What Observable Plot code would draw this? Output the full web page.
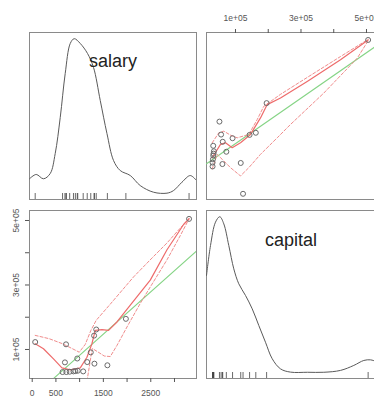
<!DOCTYPE html>
<html><head><meta charset="utf-8">
<script src="https://cdn.jsdelivr.net/npm/d3@7"></script>
<script src="https://cdn.jsdelivr.net/npm/@observablehq/plot@0.6"></script>
<style>
html,body{margin:0;padding:0;background:#fff;}
#chart{position:relative;width:374px;height:400px;overflow:hidden;background:#fff;}
#chart svg{position:absolute;left:0;top:0;}
</style></head><body><div id="chart"></div>
<script>
// ---- data ----
const variables = ["salary", "capital"];
const salary  = [3307, 1975, 1305, 1350, 1585, 1312, 1160, 1235, 713, 63, 690, 950, 1075, 960, 910, 870, 790, 720, 640];
const capital = [505000, 195000, 143000, 162000, 51000, 56000, 61000, 91000, 116000, 123000, 60000, 72000, 32000, 34000, 33000, 32000, 31000, 30000, 30000];

// axis ticks and labels
const salaryTicks = [0, 500, 1000, 1500, 2000, 2500, 3000];
const salaryTickLabels = ["0", "500", "", "1500", "", "2500", ""];
const capitalTicks = [100000, 200000, 300000, 400000, 500000];
const capitalTickLabels = ["1e+05", "", "3e+05", "", "5e+05"];

const salaryDomain = [-57, 3464];
const capitalDomainX = [11450, 527500];
const capitalDomainY = [10000, 531000];

// diagonal density curves (relative height, peak = 1)
const densSalaryX = [-57, 84, 238, 380, 485, 591, 696, 802, 886, 1013, 1167, 1293, 1435, 1576, 1715, 1857, 2068, 2278, 2559, 2842, 2981, 3158, 3333, 3464];
const densSalaryY = [0.094, 0.122, 0.094, 0.128, 0.257, 0.490, 0.775, 0.969, 1.0, 0.969, 0.904, 0.814, 0.600, 0.387, 0.212, 0.147, 0.115, 0.050, 0.007, 0.001, 0.018, 0.072, 0.115, 0.083];
const densCapitalX = [11450, 23700, 38900, 52000, 64300, 79500, 94800, 110000, 130500, 151000, 171100, 191600, 212100, 237400, 268000, 320000, 369600, 420600, 461200, 491800, 512200, 527500];
const densCapitalY = [0.622, 0.815, 0.965, 1.0, 0.954, 0.815, 0.665, 0.569, 0.494, 0.408, 0.301, 0.193, 0.087, 0.022, 0.001, 0.0, 0.0, 0.012, 0.044, 0.076, 0.080, 0.071];
const densDomain = [-0.04, 1.04];

// bottom-left panel smoothers (x = salary, y = capital)
const blFitS = [63, 238, 449, 627, 802, 1013, 1154, 1259, 1329, 1470, 1610, 1787, 2068, 2489, 2842, 3192, 3307];
const blFitC = [117800, 102200, 70900, 42800, 36600, 42800, 75900, 117800, 159400, 161600, 159400, 185300, 237500, 315000, 409400, 487500, 505000];
const blUpS = [63, 359, 639, 850, 992, 1118, 1238, 1350, 1646, 2137, 2489, 2842, 3307];
const blUpC = [143750, 133400, 117800, 102200, 91600, 115600, 159400, 190600, 240600, 325000, 378100, 430300, 507000];
const blLoS = [1139, 1266, 1371, 1519, 1646, 1787, 1998, 2278, 2489, 2842, 3122, 3307];
const blLoC = [-12500, 103100, 93750, 79700, 78100, 112500, 169700, 242800, 293750, 378100, 453100, 505000];
const blLinS = [-57, 3464];
const blLinC = [-56600, 405100];

// top-right panel smoothers (x = capital, y = salary)
const trFitC = [28900, 54200, 69500, 89900, 115300, 145800, 176300, 196800, 237400, 318900, 420600, 505000];
const trFitS = [824, 1105, 1139, 1034, 1139, 1315, 1663, 1944, 2082, 2432, 2888, 3307];
const trUpC = [28900, 49000, 64300, 84700, 105200, 140600, 166300, 186400, 237400, 318900, 420600, 505000];
const trUpS = [1139, 1349, 1384, 1300, 1243, 1315, 1629, 1908, 2160, 2516, 2957, 3320];
const trLoC = [28900, 44100, 59400, 84700, 115300, 140600, 176300, 227300, 267900, 369600, 471600, 505000];
const trLoS = [587, 895, 790, 614, 440, 614, 895, 1243, 1525, 2187, 2921, 3290];
const trLinC = [11450, 527500];
const trLinS = [696, 3169];

// ---- build tables ----
const zip = (a, b, ka, kb) => a.map((v, i) => ({[ka]: v, [kb]: b[i]}));
const points = zip(salary, capital, "salary", "capital");
const salLab = new Map(salaryTicks.map((t, i) => [t, salaryTickLabels[i]]));
const capLab = new Map(capitalTicks.map((t, i) => [t, capitalTickLabels[i]]));

const FONT = "'Liberation Sans', Arial, Helvetica, sans-serif";
const FRAME = "#8a8a8a";
const PT = "#6a6a6a";
const RED = "#ee6b6b";
const PINK = "#f08c8c";
const GREEN = "#86d486";
const style = {background: "transparent", maxWidth: "none", overflow: "visible", fontFamily: FONT, fontSize: "8.5px"};

const chart = document.getElementById("chart");
function add(svg) { chart.appendChild(svg); }

// top-left: salary density
add(Plot.plot({
  width: 374, height: 400, marginLeft: 29, marginRight: 178, marginTop: 32, marginBottom: 201,
  style,
  x: {domain: salaryDomain, axis: null},
  y: {domain: densDomain, axis: null},
  marks: [
    Plot.frame({stroke: FRAME}),
    Plot.line(zip(densSalaryX, densSalaryY, "x", "d"), {x: "x", y: "d", stroke: "#5a5a5a", strokeWidth: 1, curve: "catmull-rom", clip: true}),
    Plot.tickX(salary, {x: d => d, insetTop: 161, stroke: "#444", strokeWidth: 0.8}),
    Plot.text([variables[0]], {text: d => d, frameAnchor: "top", dy: 34, lineAnchor: "bottom", fontSize: 18, fill: "#222"})
  ]
}));

// top-right: salary vs capital
add(Plot.plot({
  width: 375, height: 400, marginLeft: 206, marginRight: 0, marginTop: 32, marginBottom: 201,
  style,
  x: {domain: capitalDomainX, axis: null},
  y: {domain: salaryDomain, axis: null},
  marks: [
    Plot.frame({stroke: FRAME}),
    Plot.axisX(capitalTicks, {anchor: "top", tickSize: 4, tickPadding: 8, tickFormat: d => capLab.get(d), color: "#555", fontSize: 8.5}),
    Plot.line(zip(trLinC, trLinS, "c", "s"), {x: "c", y: "s", stroke: GREEN, strokeWidth: 1.1, clip: true}),
    Plot.line(zip(trUpC, trUpS, "c", "s"), {x: "c", y: "s", stroke: PINK, strokeWidth: 1, strokeDasharray: "3,2", clip: true}),
    Plot.line(zip(trLoC, trLoS, "c", "s"), {x: "c", y: "s", stroke: PINK, strokeWidth: 1, strokeDasharray: "3,2", clip: true}),
    Plot.line(zip(trFitC, trFitS, "c", "s"), {x: "c", y: "s", stroke: RED, strokeWidth: 1.2, clip: true}),
    Plot.dot(points, {x: "capital", y: "salary", r: 2.5, stroke: PT, strokeWidth: 1})
  ]
}));

// bottom-left: capital vs salary
add(Plot.plot({
  width: 374, height: 400, marginLeft: 29, marginRight: 178, marginTop: 210, marginBottom: 22,
  style,
  x: {domain: salaryDomain, axis: null},
  y: {domain: capitalDomainY, axis: null},
  marks: [
    Plot.frame({stroke: FRAME}),
    Plot.axisX(salaryTicks, {anchor: "bottom", tickSize: 4, tickPadding: 7, tickFormat: d => salLab.get(d), color: "#555", fontSize: 8.5}),
    Plot.axisY(capitalTicks, {anchor: "left", tickSize: 4, tickFormat: () => "", color: "#555"}),
    Plot.text(capitalTicks.filter(t => capLab.get(t) !== ""), {y: d => d, text: d => capLab.get(d), frameAnchor: "left", dx: -11, rotate: -90, textAnchor: "middle", lineAnchor: "bottom", fill: "#555", fontSize: 8.5}),
    Plot.line(zip(blLinS, blLinC, "s", "c"), {x: "s", y: "c", stroke: GREEN, strokeWidth: 1.1, clip: true}),
    Plot.line(zip(blUpS, blUpC, "s", "c"), {x: "s", y: "c", stroke: PINK, strokeWidth: 1, strokeDasharray: "3,2", clip: true}),
    Plot.line(zip(blLoS, blLoC, "s", "c"), {x: "s", y: "c", stroke: PINK, strokeWidth: 1, strokeDasharray: "3,2", clip: true}),
    Plot.line(zip(blFitS, blFitC, "s", "c"), {x: "s", y: "c", stroke: RED, strokeWidth: 1.2, clip: true}),
    Plot.dot(points, {x: "salary", y: "capital", r: 2.5, stroke: PT, strokeWidth: 1})
  ]
}));

// bottom-right: capital density
add(Plot.plot({
  width: 375, height: 400, marginLeft: 206, marginRight: 0, marginTop: 210, marginBottom: 22,
  style,
  x: {domain: capitalDomainX, axis: null},
  y: {domain: densDomain, axis: null},
  marks: [
    Plot.frame({stroke: FRAME}),
    Plot.line(zip(densCapitalX, densCapitalY, "x", "d"), {x: "x", y: "d", stroke: "#5a5a5a", strokeWidth: 1, curve: "catmull-rom", clip: true}),
    Plot.tickX(capital, {x: d => d, insetTop: 162, stroke: "#444", strokeWidth: 0.8}),
    Plot.text([variables[1]], {text: d => d, frameAnchor: "top", dy: 35, lineAnchor: "bottom", fontSize: 18, fill: "#222"})
  ]
}));
</script>
</body></html>
